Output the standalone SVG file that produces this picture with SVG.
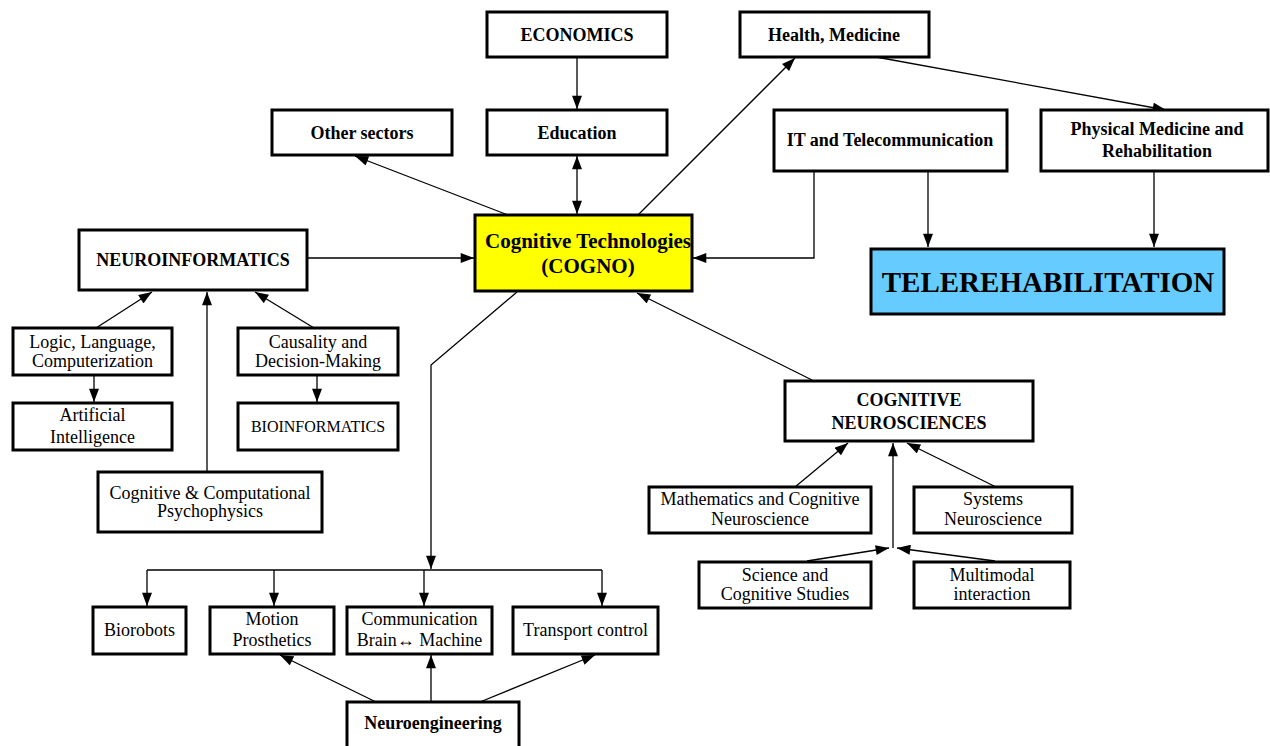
<svg xmlns="http://www.w3.org/2000/svg" width="1270" height="746" viewBox="0 0 1270 746">
<style>
.box{fill:#fff;stroke:#000;stroke-width:3}
.cogno{fill:#ffff00;stroke:#000;stroke-width:3}
.tele{fill:#66ccff;stroke:#000;stroke-width:3}
.b{font-family:"Liberation Serif","Times New Roman",serif;font-weight:bold;font-size:18px;text-anchor:middle;fill:#000}
.r{font-family:"Liberation Serif","Times New Roman",serif;font-size:18px;text-anchor:middle;fill:#000}
.c{fill:none;stroke:#000;stroke-width:1.3}
.a{marker-end:url(#ah)}
</style>
<defs>
<marker id="ah" markerUnits="userSpaceOnUse" markerWidth="14" markerHeight="10" refX="12" refY="4.5" orient="auto-start-reverse" viewBox="0 0 12 9">
<path d="M0,0 L12,4.5 L0,9 z" fill="#000"/>
</marker>
</defs>
<rect width="1270" height="746" fill="#fff"/>
<g id="connectors">
<path class="c a" d="M577,57 V109"/>
<path class="c a" d="M577,156 V214" marker-start="url(#ah)"/>
<path class="c a" d="M508,215 L355,156"/>
<path class="c a" d="M638,215 L795,58"/>
<path class="c a" d="M876,57 L1166,110"/>
<path class="c a" d="M814,171 V258 H693"/>
<path class="c a" d="M928,171 V247"/>
<path class="c a" d="M1154,171 V247"/>
<path class="c a" d="M307,258 H474"/>
<path class="c a" d="M96,328 L152,292"/>
<path class="c a" d="M207,472 V292"/>
<path class="c a" d="M314,328 L255,292"/>
<path class="c a" d="M94,375 V402"/>
<path class="c a" d="M317,375 V402"/>
<path class="c a" d="M517,292 L431,365 V569"/>
<path class="c" d="M147,570 H602"/>
<path class="c a" d="M147,570 V606"/>
<path class="c a" d="M274,570 V606"/>
<path class="c a" d="M424,570 V606"/>
<path class="c a" d="M602,570 V606"/>
<path class="c a" d="M376,702 L280,655"/>
<path class="c a" d="M431,702 V655"/>
<path class="c a" d="M480,702 L595,655"/>
<path class="c a" d="M812,380 L637,293"/>
<path class="c a" d="M795,487 L848,443"/>
<path class="c a" d="M996,487 L907,443"/>
<path class="c a" d="M893,548 V443"/>
<path class="c a" d="M807,561 L889,548"/>
<path class="c a" d="M995,561 L897,548"/>
</g>
<g id="economics"><rect class="box" x="487" y="12" width="180" height="45"/><text class="b" x="577" y="41">ECONOMICS</text></g>
<g id="education"><rect class="box" x="487" y="110" width="180" height="45"/><text class="b" x="577" y="139">Education</text></g>
<g id="other-sectors"><rect class="box" x="272" y="110" width="180" height="45"/><text class="b" x="362" y="139">Other sectors</text></g>
<g id="health"><rect class="box" x="740" y="12" width="189" height="45"/><text class="b" x="834" y="41">Health, Medicine</text></g>
<g id="it"><rect class="box" x="774" y="110" width="233" height="61"/><text class="b" x="890" y="146">IT and Telecommunication</text></g>
<g id="physical"><rect class="box" x="1041" y="110" width="227" height="61"/><text class="b" x="1157" y="135">Physical Medicine and</text><text class="b" x="1157" y="157">Rehabilitation</text></g>
<g id="cogno"><rect class="cogno" x="475" y="215" width="217" height="76"/><text class="b" x="588" y="248" style="font-size:21px">Cognitive Technologies</text><text class="b" x="588" y="273" style="font-size:21px">(COGNO)</text></g>
<g id="telerehab"><rect class="tele" x="871" y="249" width="353" height="65"/><text class="b" x="1048" y="292" style="font-size:29px">TELEREHABILITATION</text></g>
<g id="neuroinformatics"><rect class="box" x="79" y="230" width="228" height="60"/><text class="b" x="193" y="266">NEUROINFORMATICS</text></g>
<g id="logic"><rect class="box" x="13" y="328" width="159" height="47"/><text class="r" x="92.5" y="348">Logic, Language,</text><text class="r" x="92.5" y="367">Computerization</text></g>
<g id="ai"><rect class="box" x="13" y="403" width="159" height="47"/><text class="r" x="92.5" y="421">Artificial</text><text class="r" x="92.5" y="443">Intelligence</text></g>
<g id="causality"><rect class="box" x="238" y="328" width="160" height="47"/><text class="r" x="318" y="348">Causality and</text><text class="r" x="318" y="367">Decision-Making</text></g>
<g id="bioinformatics"><rect class="box" x="238" y="403" width="160" height="47"/><text class="r" x="318" y="432" style="font-size:16px">BIOINFORMATICS</text></g>
<g id="psychophysics"><rect class="box" x="98" y="472" width="224" height="60"/><text class="r" x="210" y="499">Cognitive &amp; Computational</text><text class="r" x="210" y="517">Psychophysics</text></g>
<g id="biorobots"><rect class="box" x="93" y="607" width="93" height="47"/><text class="r" x="139.5" y="636">Biorobots</text></g>
<g id="motion"><rect class="box" x="210" y="607" width="124" height="47"/><text class="r" x="272" y="625">Motion</text><text class="r" x="272" y="646">Prosthetics</text></g>
<g id="communication"><rect class="box" x="347" y="607" width="145" height="47"/><text class="r" x="419.5" y="625">Communication</text><text class="r" x="419.5" y="646">Brain↔ Machine</text></g>
<g id="transport"><rect class="box" x="513" y="607" width="145" height="47"/><text class="r" x="585.5" y="636">Transport control</text></g>
<g id="neuroengineering"><rect class="box" x="347" y="702" width="172" height="60"/><text class="b" x="433" y="729">Neuroengineering</text></g>
<g id="cognitive-neurosciences"><rect class="box" x="785" y="381" width="248" height="60"/><text class="b" x="909" y="406">COGNITIVE</text><text class="b" x="909" y="429">NEUROSCIENCES</text></g>
<g id="math"><rect class="box" x="649" y="487" width="222" height="46"/><text class="r" x="760" y="505">Mathematics and Cognitive</text><text class="r" x="760" y="525">Neuroscience</text></g>
<g id="systems"><rect class="box" x="914" y="487" width="158" height="46"/><text class="r" x="993" y="505">Systems</text><text class="r" x="993" y="525">Neuroscience</text></g>
<g id="science"><rect class="box" x="699" y="562" width="172" height="46"/><text class="r" x="785" y="581">Science and</text><text class="r" x="785" y="600">Cognitive Studies</text></g>
<g id="multimodal"><rect class="box" x="914" y="562" width="156" height="46"/><text class="r" x="992" y="581">Multimodal</text><text class="r" x="992" y="600">interaction</text></g>
</svg>
